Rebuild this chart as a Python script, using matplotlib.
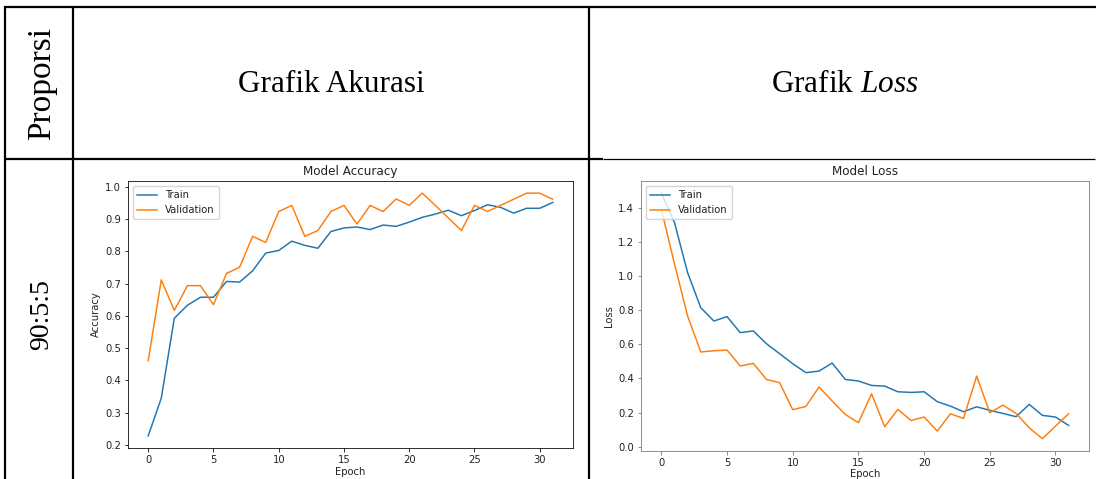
import matplotlib
matplotlib.use("Agg")
import matplotlib.pyplot as plt
from matplotlib.lines import Line2D
import numpy as np

# values (32 epochs)
epochs = np.arange(32)
acc_train = [0.228, 0.345, 0.593, 0.633, 0.658, 0.658, 0.707, 0.705, 0.740, 0.795,
             0.803, 0.832, 0.819, 0.810, 0.862, 0.873, 0.876, 0.868, 0.882, 0.878,
             0.891, 0.906, 0.916, 0.928, 0.911, 0.927, 0.945, 0.937, 0.919, 0.934,
             0.934, 0.952]
acc_val = [0.461, 0.712, 0.617, 0.694, 0.694, 0.635, 0.732, 0.751, 0.847, 0.828,
           0.924, 0.943, 0.847, 0.865, 0.924, 0.943, 0.885, 0.943, 0.924, 0.963,
           0.943, 0.981, 0.943, 0.904, 0.865, 0.943, 0.924, 0.943, 0.962, 0.981,
           0.981, 0.962]
loss_train = [1.484, 1.312, 1.019, 0.814, 0.736, 0.762, 0.668, 0.678, 0.603, 0.545,
              0.486, 0.434, 0.443, 0.490, 0.394, 0.385, 0.359, 0.355, 0.322, 0.318,
              0.322, 0.264, 0.238, 0.205, 0.234, 0.213, 0.195, 0.176, 0.248, 0.184,
              0.174, 0.125]
loss_val = [1.390, 1.070, 0.765, 0.555, 0.562, 0.566, 0.473, 0.488, 0.394, 0.375,
            0.217, 0.236, 0.350, 0.268, 0.189, 0.141, 0.310, 0.117, 0.219, 0.154,
            0.174, 0.092, 0.193, 0.166, 0.414, 0.199, 0.244, 0.195, 0.111, 0.047,
            0.121, 0.193]

header_prop = "Proporsi"
header_acc = "Grafik Akurasi"
row_label = "90:5:5"

W, H = 1096, 479
s = 0.72  # the embedded charts are scaled-down matplotlib figures

plt.rcParams.update({
    "font.size": 10 * s,
    "lines.linewidth": 1.5 * s,
    "axes.linewidth": 0.8 * s,
    "xtick.major.size": 3.5 * s,
    "ytick.major.size": 3.5 * s,
    "xtick.major.width": 0.8 * s,
    "ytick.major.width": 0.8 * s,
    "xtick.major.pad": 3.5 * s,
    "ytick.major.pad": 3.5 * s,
    "axes.titlepad": 6 * s,
    "axes.labelpad": 4 * s,
    "text.color": "#222222",
    "axes.labelcolor": "#222222",
    "xtick.labelcolor": "#222222",
    "ytick.labelcolor": "#222222",
    "mathtext.fontset": "custom",
    "mathtext.rm": "Liberation Serif",
    "mathtext.it": "Liberation Serif:italic",
})


def fx(px):
    return px / W


def fy(py):
    return 1 - py / H


def box(x0, y0, x1, y1):
    # pixel box (top-left origin) -> figure fraction rect
    return [fx(x0), fy(y1), fx(x1) - fx(x0), fy(y0) - fy(y1)]


fig = plt.figure(figsize=(W / 100, H / 100), dpi=100)

# table rules
def hline(y, x0, x1, lw):
    fig.add_artist(Line2D([fx(x0), fx(x1)], [fy(y), fy(y)], color="black", lw=lw,
                          solid_capstyle="butt"))


def vline(x, y0, y1, lw):
    fig.add_artist(Line2D([fx(x), fx(x)], [fy(y0), fy(y1)], color="black", lw=lw,
                          solid_capstyle="butt"))


hline(6.5, 4, 1096, 1.6)
hline(159, 4, 603, 1.6)
hline(159, 603, 1095, 0.9)
vline(5, 6, 479, 1.6)
vline(73, 6, 479, 1.6)
vline(589, 6, 479, 1.6)

serif = "Liberation Serif"
fig.text(fx(42), fy(83), header_prop, rotation=90, ha="center", va="center",
         family=serif, fontsize=24, color="black")
fig.text(fx(331), fy(85), header_acc, ha="center", va="center",
         family=serif, fontsize=22.5, color="black")
fig.text(fx(845), fy(85), r"Grafik $\mathit{Loss}$", ha="center", va="center",
         family=serif, fontsize=22.5, color="black")
fig.text(fx(42), fy(315), row_label, rotation=90, ha="center", va="center",
         family=serif, fontsize=20, color="black")

# accuracy chart
ax1 = fig.add_axes(box(128, 181, 573, 448))
ax1.plot(epochs, acc_train, color="#1f77b4", label="Train")
ax1.plot(epochs, acc_val, color="#ff7f0e", label="Validation")
ax1.set_title("Model Accuracy")
ax1.set_xlabel("Epoch", labelpad=1.5)
ax1.set_ylabel("Accuracy")
ax1.set_xticks([0, 5, 10, 15, 20, 25, 30])
ax1.legend(loc="upper left")

# loss chart
ax2 = fig.add_axes(box(641, 181, 1089, 451))
ax2.plot(epochs, loss_train, color="#1f77b4", label="Train")
ax2.plot(epochs, loss_val, color="#ff7f0e", label="Validation")
ax2.set_title("Model Loss")
ax2.set_xlabel("Epoch", labelpad=0.5)
ax2.set_ylabel("Loss")
ax2.set_xticks([0, 5, 10, 15, 20, 25, 30])
for sp in ax2.spines.values():
    sp.set_color("#777777")
ax2.tick_params(color="#777777")
ax2.legend(loc="upper left")

fig.savefig("out.png", dpi=100)
